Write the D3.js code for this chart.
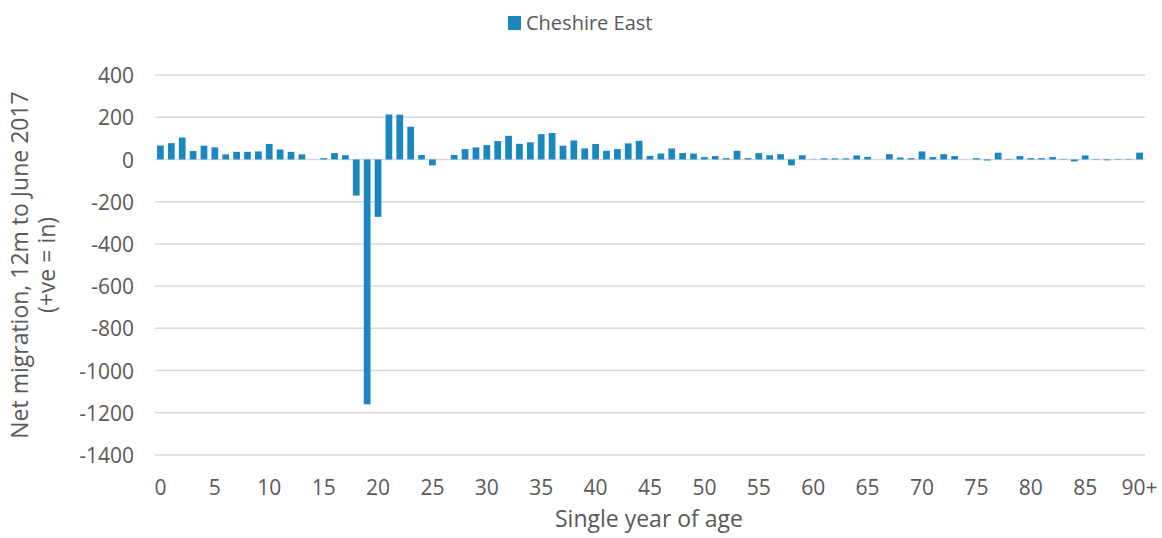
<!DOCTYPE html>
<html><head><meta charset="utf-8">
<script src="https://cdn.jsdelivr.net/npm/d3@7"></script>
<style>body{margin:0;background:#fff}svg{display:block}text{font-family:"Open Sans",sans-serif;fill:#595959}</style>
</head><body><svg id="c" width="1162" height="538"></svg>
<script>
const categories = d3.range(0, 91).map(d => d === 90 ? "90+" : String(d));
const seriesName = "Cheshire East";
const values = [
  66, 77, 104, 40, 65, 57, 24, 36, 36, 38,
  73, 47, 36, 24, 0, 6, 30, 20, -171, -1160,
  -272, 213, 212, 155, 21, -28, 0, 21, 49, 57,
  68, 87, 112, 74, 81, 120, 125, 65, 90, 52,
  73, 41, 49, 76, 88, 17, 28, 52, 30, 28,
  11, 16, 6, 41, 6, 30, 20, 25, -28, 20,
  1, 5, 5, 5, 19, 12, 0, 25, 9, 6,
  38, 11, 25, 16, 0, 6, -5, 32, -2, 16,
  6, 6, 11, 2, -9, 19, 2, -4, -2, 2,
  32
];
const yTicks = [400, 200, 0, -200, -400, -600, -800, -1000, -1200, -1400];
const xTickLabels = ["0","5","10","15","20","25","30","35","40","45","50","55","60","65","70","75","80","85","90+"];

const svg = d3.select("#c");
const m = {left: 155, right: 1145, top: 75, bottom: 455};
const x = d3.scaleBand().domain(categories).range([m.left, m.right]).paddingInner(0.38).paddingOuter(0.19);
const y = d3.scaleLinear().domain([-1400, 400]).range([m.bottom, m.top]);
const color = "#1a87c0";

svg.append("g").selectAll("line").data(yTicks).join("line")
  .attr("x1", m.left).attr("x2", m.right)
  .attr("y1", d => y(d)).attr("y2", d => y(d))
  .attr("stroke", "#d9d9d9").attr("stroke-width", 1.5);

svg.append("g").selectAll("rect").data(values).join("rect")
  .attr("x", (d, i) => x(categories[i]))
  .attr("width", x.bandwidth())
  .attr("y", d => y(Math.max(0, d)))
  .attr("height", d => Math.abs(y(d) - y(0)))
  .attr("fill", color);

const yAxis = d3.axisLeft(y).tickValues(yTicks).tickFormat(d => String(d)).tickSize(0).tickPadding(0);
const gy = svg.append("g").attr("transform", "translate(134,0)").call(yAxis);
gy.select(".domain").remove();
gy.selectAll("text").style("font-size", "21px").attr("fill", "#595959").attr("dy", "0.36em");

const xAxis = d3.axisBottom(x).tickValues(xTickLabels).tickSize(0).tickPadding(0);
const gx = svg.append("g").attr("transform", "translate(0,495)").call(xAxis);
gx.select(".domain").remove();
gx.selectAll("text").style("font-size", "21px").attr("fill", "#595959").attr("dy", "0");

svg.append("text").attr("x", 649).attr("y", 527)
  .attr("text-anchor", "middle").style("font-size", "23px").text("Single year of age");
const yt = svg.append("text").attr("transform", "translate(28,265) rotate(-90)")
  .attr("text-anchor", "middle").style("font-size", "23px");
yt.append("tspan").attr("x", 0).attr("dy", 0).text("Net migration, 12m to June 2017");
yt.append("tspan").attr("x", 0).attr("dy", 27).text("(+ve = in)");

svg.append("rect").attr("x", 508).attr("y", 16).attr("width", 13).attr("height", 14).attr("fill", color);
svg.append("text").attr("x", 526).attr("y", 30).style("font-size", "20px").text(seriesName);
</script></body></html>
